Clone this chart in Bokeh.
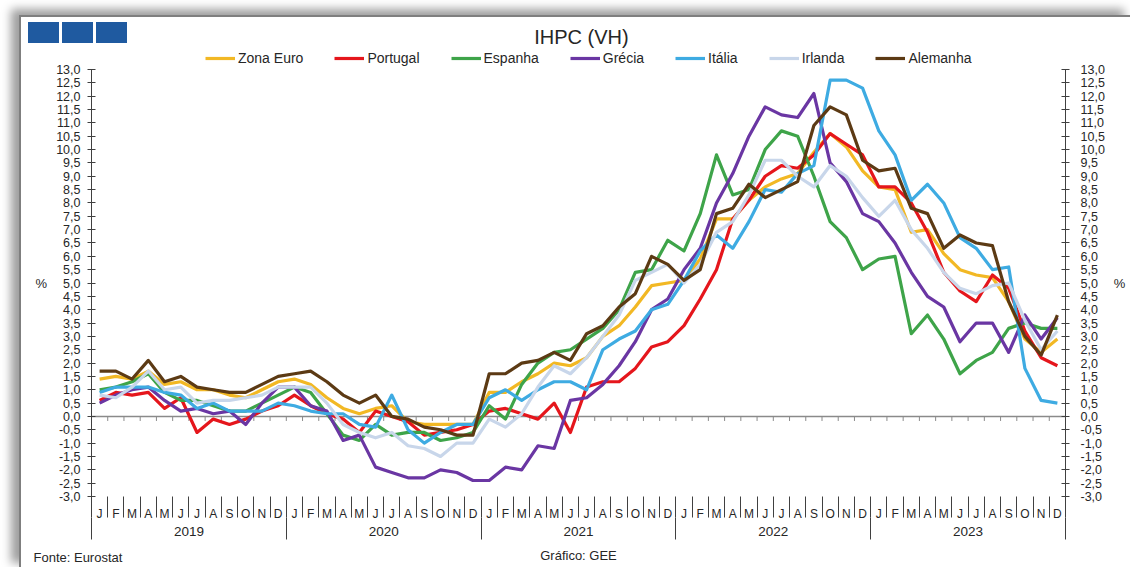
from bokeh.plotting import figure
from bokeh.models import (LinearAxis, FixedTicker, CustomJSTickFormatter, Range1d,
                          Legend, LegendItem, Label, InlineStyleSheet)
from bokeh.embed import file_html
from bokeh.resources import INLINE

# ---------------- data ----------------
month_letters = ["J", "F", "M", "A", "M", "J", "J", "A", "S", "O", "N", "D"]
years = ["2019", "2020", "2021", "2022", "2023"]

zona_euro = [1.4, 1.5, 1.4, 1.7, 1.2, 1.3, 1.0, 1.0, 0.8, 0.7, 1.0, 1.3,
             1.4, 1.2, 0.7, 0.3, 0.1, 0.3, 0.4, -0.2, -0.3, -0.3, -0.3, -0.3,
             0.9, 0.9, 1.3, 1.6, 2.0, 1.9, 2.2, 3.0, 3.4, 4.1, 4.9, 5.0,
             5.1, 5.9, 7.4, 7.4, 8.1, 8.6, 8.9, 9.1, 9.9, 10.6, 10.1, 9.2,
             8.6, 8.5, 6.9, 7.0, 6.1, 5.5, 5.3, 5.2, 4.3, 2.9, 2.4, 2.9]
portugal = [0.6, 0.9, 0.8, 0.9, 0.3, 0.7, -0.6, -0.1, -0.3, -0.1, 0.2, 0.4,
            0.8, 0.4, 0.1, -0.1, -0.6, 0.2, 0.0, -0.2, -0.7, -0.6, -0.5, -0.3,
            0.2, 0.3, 0.1, -0.1, 0.5, -0.6, 1.1, 1.3, 1.3, 1.8, 2.6, 2.8,
            3.4, 4.4, 5.5, 7.4, 8.1, 9.0, 9.4, 9.3, 9.8, 10.6, 10.2, 9.8,
            8.6, 8.6, 8.0, 6.9, 5.4, 4.7, 4.3, 5.3, 4.8, 3.2, 2.2, 1.9]
espanha = [1.0, 1.1, 1.3, 1.6, 0.9, 0.6, 0.6, 0.4, 0.2, 0.2, 0.5, 0.8,
           1.1, 0.9, 0.1, -0.7, -0.9, -0.3, -0.7, -0.6, -0.6, -0.9, -0.8, -0.6,
           0.4, -0.1, 1.2, 2.0, 2.4, 2.5, 2.9, 3.3, 4.0, 5.4, 5.5, 6.6,
           6.2, 7.6, 9.8, 8.3, 8.5, 10.0, 10.7, 10.5, 9.0, 7.3, 6.7, 5.5,
           5.9, 6.0, 3.1, 3.8, 2.9, 1.6, 2.1, 2.4, 3.3, 3.5, 3.3, 3.3]
grecia = [0.5, 0.8, 1.0, 1.1, 0.6, 0.2, 0.3, 0.1, 0.2, -0.3, 0.5, 1.1,
          1.1, 0.4, 0.2, -0.9, -0.7, -1.9, -2.1, -2.3, -2.3, -2.0, -2.1, -2.4,
          -2.4, -1.9, -2.0, -1.1, -1.2, 0.6, 0.7, 1.2, 1.9, 2.8, 4.0, 4.4,
          5.5, 6.3, 8.0, 9.1, 10.5, 11.6, 11.3, 11.2, 12.1, 9.5, 8.8, 7.6,
          7.3, 6.5, 5.4, 4.5, 4.1, 2.8, 3.5, 3.5, 2.4, 3.8, 2.9, 3.7]
italia = [0.9, 1.1, 1.1, 1.1, 0.9, 0.8, 0.3, 0.5, 0.2, 0.2, 0.2, 0.5,
          0.4, 0.2, 0.1, 0.1, -0.3, -0.4, 0.8, -0.5, -1.0, -0.6, -0.3, -0.3,
          0.7, 1.0, 0.6, 1.0, 1.3, 1.3, 1.0, 2.5, 2.9, 3.2, 4.0, 4.2,
          5.1, 6.2, 6.8, 6.3, 7.3, 8.5, 8.4, 9.1, 9.4, 12.6, 12.6, 12.3,
          10.7, 9.8, 8.1, 8.7, 8.0, 6.7, 6.3, 5.5, 5.6, 1.8, 0.6, 0.5]
irlanda = [0.8, 0.7, 1.1, 1.7, 1.0, 1.1, 0.5, 0.6, 0.6, 0.7, 0.8, 1.1,
           1.1, 1.1, 0.5, -0.3, -0.6, -0.8, -0.6, -1.1, -1.2, -1.5, -1.0, -1.0,
           -0.1, -0.4, 0.1, 1.1, 1.9, 1.6, 2.2, 3.0, 3.8, 5.1, 5.4, 5.7,
           5.0, 5.7, 6.9, 7.3, 8.3, 9.6, 9.6, 9.0, 8.6, 9.4, 9.0, 8.2,
           7.5, 8.1, 7.0, 6.3, 5.4, 4.8, 4.6, 4.9, 5.0, 3.6, 2.5, 3.2]
alemanha = [1.7, 1.7, 1.4, 2.1, 1.3, 1.5, 1.1, 1.0, 0.9, 0.9, 1.2, 1.5,
            1.6, 1.7, 1.3, 0.8, 0.5, 0.8, 0.0, -0.1, -0.4, -0.5, -0.7, -0.7,
            1.6, 1.6, 2.0, 2.1, 2.4, 2.1, 3.1, 3.4, 4.1, 4.6, 6.0, 5.7,
            5.1, 5.5, 7.6, 7.8, 8.7, 8.2, 8.5, 8.8, 10.9, 11.6, 11.3, 9.6,
            9.2, 9.3, 7.8, 7.6, 6.3, 6.8, 6.5, 6.4, 4.3, 3.0, 2.3, 3.8]

series_names = ["Zona Euro", "Portugal", "Espanha", "Grécia", "Itália", "Irlanda", "Alemanha"]
series_values = [zona_euro, portugal, espanha, grecia, italia, irlanda, alemanha]
series_colors = ["#F2B824", "#E5161C", "#3EA449", "#6A36A3", "#3EABE2", "#C8D6EA", "#5C3A14"]

Y_MIN, Y_MAX = -3, 13

# ---------------- page geometry (pixels) ----------------
W, H = 1130, 567
FRAME_L, FRAME_R, FRAME_T, FRAME_B = 91, 1065, 69, 496
n_months = len(zona_euro)
PX_X = (FRAME_R - FRAME_L) / n_months          # px per month
PX_Y = (FRAME_B - FRAME_T) / (Y_MAX - Y_MIN)   # px per unit


def X(px):
    return (px - FRAME_L) / PX_X


def Y(py):
    return Y_MAX - (py - FRAME_T) / PX_Y


FONT = "Liberation Sans"
TXT = "#262626"
AX = "#404040"
xs = [i + 0.5 for i in range(n_months)]

css = InlineStyleSheet(css="""
:host::before {
  content: ""; position: absolute; left: 19px; top: 15px;
  width: calc(100% - 19px); height: calc(100% - 15px);
  border-left: 2px solid #7f7f7f; border-top: 2px solid #7f7f7f;
  box-shadow: -8px -6px 9px rgba(0,0,0,0.38);
  pointer-events: none; z-index: 10;
}
:host::after {
  content: ""; position: absolute; left: 28px; top: 22px; width: 31px; height: 21px;
  background: #1F5AA0; box-shadow: 34px 0 0 #1F5AA0, 68px 0 0 #1F5AA0;
  pointer-events: none; z-index: 11;
}
""")

# frame = whole canvas; axes are pinned with fixed_location
p = figure(width=W, height=H, x_range=Range1d(X(0), X(W)), y_range=Range1d(Y(H), Y(0)),
           x_axis_type=None, y_axis_type=None, toolbar_location=None,
           output_backend="svg", min_border=0, stylesheets=[css])
p.outline_line_color = None
p.background_fill_color = "white"
p.border_fill_color = "white"

# ---------------- y axes ----------------
yticks = [Y_MIN + 0.5 * k for k in range(int((Y_MAX - Y_MIN) * 2) + 1)]
fmt = CustomJSTickFormatter(code="return tick.toFixed(1).replace('.', ',');")
for side, loc, standoff in (("left", 0, 7), ("right", n_months, 11)):
    ax = LinearAxis(ticker=FixedTicker(ticks=yticks), formatter=fmt,
                    fixed_location=loc, bounds=(Y_MIN, Y_MAX))
    ax.axis_line_color = AX
    ax.major_tick_line_color = AX
    ax.major_tick_in = 4
    ax.major_tick_out = 4
    ax.minor_tick_line_color = None
    ax.major_label_text_font = FONT
    ax.major_label_text_font_size = "12.5px"
    ax.major_label_text_color = TXT
    ax.major_label_standoff = standoff
    ax.axis_label = "%"
    ax.axis_label_text_font = FONT
    ax.axis_label_text_font_style = "normal"
    ax.axis_label_text_font_size = "13px"
    ax.axis_label_text_color = TXT
    ax.axis_label_standoff = 6
    if "axis_label_orientation" in ax.properties():
        ax.axis_label_orientation = "horizontal"
    p.add_layout(ax, side)

# ---------------- month axis ----------------
month_ticker = FixedTicker(ticks=xs, minor_ticks=list(range(n_months + 1)))
mx = LinearAxis(ticker=month_ticker, fixed_location=Y_MIN, bounds=(0, n_months))
mx.major_label_overrides = {x: month_letters[i % 12] for i, x in enumerate(xs)}
mx.axis_line_color = None
mx.major_tick_line_color = None
mx.major_tick_out = 0
mx.major_tick_in = 0
mx.minor_tick_line_color = AX
mx.minor_tick_out = 21
mx.minor_tick_in = 0
mx.major_label_standoff = -11
mx.major_label_text_font = FONT
mx.major_label_text_font_size = "12px"
mx.major_label_text_color = TXT
p.add_layout(mx, "below")

# ---------------- year axis ----------------
year_centers = [6 + 12 * k for k in range(len(years))]
year_ticker = FixedTicker(ticks=year_centers, minor_ticks=[12 * k for k in range(len(years) + 1)])
yx = LinearAxis(ticker=year_ticker, fixed_location=Y(FRAME_B + 21), bounds=(0, n_months))
yx.major_label_overrides = {c: y for c, y in zip(year_centers, years)}
yx.axis_line_color = None
yx.major_tick_line_color = None
yx.major_tick_out = 0
yx.major_tick_in = 0
yx.minor_tick_line_color = AX
yx.minor_tick_out = 22
yx.minor_tick_in = 0
yx.major_label_standoff = -13
yx.major_label_text_font = FONT
yx.major_label_text_font_size = "13.5px"
yx.major_label_text_color = TXT
p.add_layout(yx, "below")

# ---------------- zero line with small month ticks ----------------
bounds = list(range(n_months + 1))
p.segment(x0=[0], y0=[0], x1=[n_months], y1=[0], line_color="#8a8a8a", line_width=1.5, level="underlay")
p.segment(x0=bounds, y0=[0] * len(bounds), x1=bounds, y1=[-0.17] * len(bounds),
          line_color="#8a8a8a", line_width=1, level="underlay")

# ---------------- series ----------------
items = []
for name, vals, col in zip(series_names, series_values, series_colors):
    r = p.line(xs, vals, line_color=col, line_width=3.2, line_join="round")
    items.append(LegendItem(label=name, renderers=[r]))

legend = Legend(items=items, orientation="horizontal", location=(205, H - 68),
                glyph_width=30, glyph_height=12, label_height=20, label_standoff=3, spacing=31,
                padding=0, margin=0, border_line_color=None, background_fill_alpha=0,
                label_text_font=FONT, label_text_font_size="14px", label_text_color=TXT)
p.add_layout(legend)

# ---------------- texts ----------------
p.add_layout(Label(x=X(581), y=Y(36), text="IHPC (VH)", text_align="center", text_baseline="middle",
                   text_font=FONT, text_font_size="20px", text_color=TXT))
p.add_layout(Label(x=X(33), y=Y(557), text="Fonte: Eurostat", text_align="left", text_baseline="middle",
                   text_font=FONT, text_font_size="13px", text_color=TXT))
p.add_layout(Label(x=X(578), y=Y(555), text="Gráfico: GEE", text_align="center", text_baseline="middle",
                   text_font=FONT, text_font_size="13px", text_color=TXT))

open("out.html", "w").write(file_html(p, INLINE))
